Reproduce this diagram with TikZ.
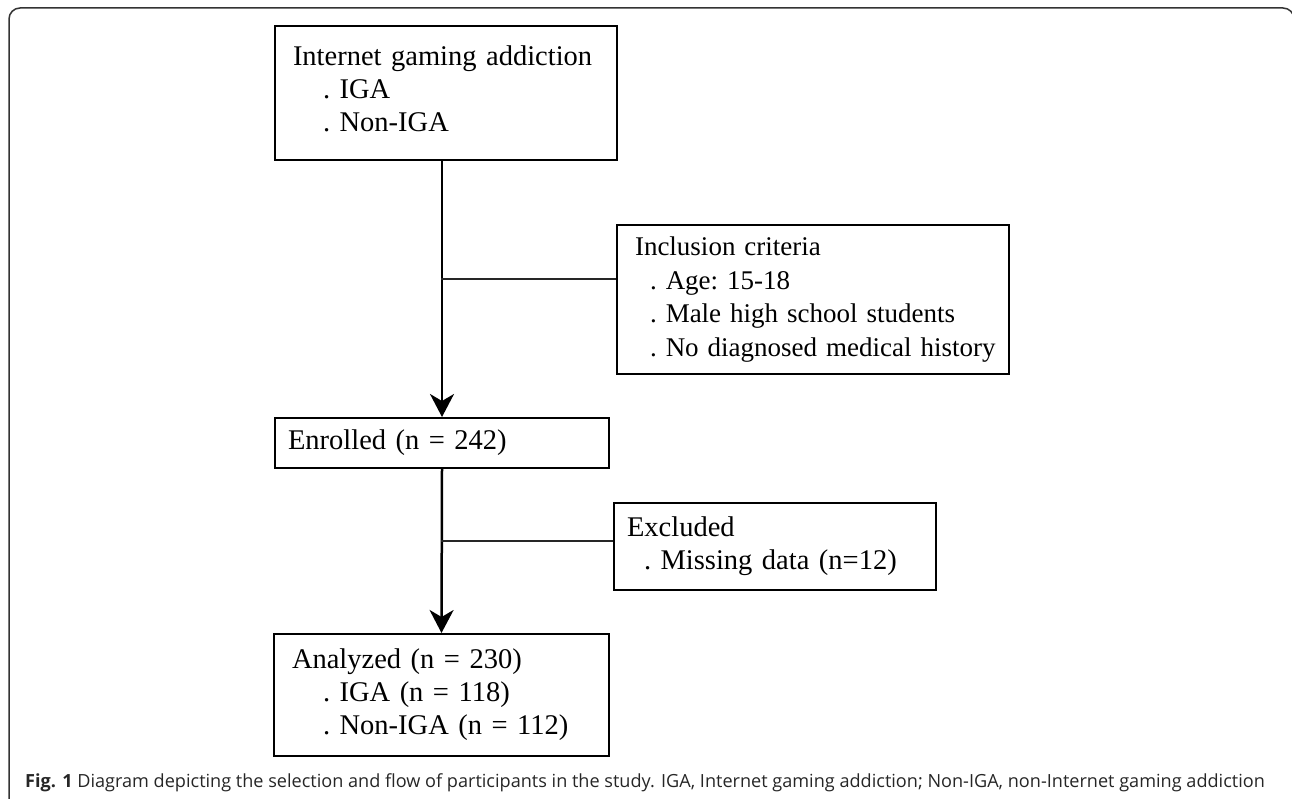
\documentclass[tikz,border=0pt]{standalone}
\usepackage{fontspec}
\setmainfont{Liberation Serif}
\newfontfamily\captionfont{Open Sans}
\usetikzlibrary{arrows.meta,positioning}
\tikzset{
  every picture/.style={x=1pt, y=-1pt, >={Stealth[length=23pt, width=24pt, inset=7pt]}},
  every node/.style={font=\fontsize{28.5}{33}\selectfont}}

\begin{document}
\begin{tikzpicture}[
    flowbox/.style={
      draw,
      line width=2pt,
      anchor=north west,
      align=left,
      inner xsep=18pt,
      inner ysep=0pt,
      execute at begin node=\frenchspacing},
    flowline/.style={line width=2pt, black!85},
    flowarrow/.style={->, line width=2.5pt}]

    \useasboundingbox (0,0) rectangle (1292,799);
    \draw[rounded corners=11pt, line width=1.5pt, black!80] (9,8) rectangle (1294,812);

    \node[flowbox, text width=306pt, minimum height=134pt] (iga) at (274,25)
      {Internet gaming addiction\\\hspace*{30pt}. IGA\\\hspace*{30pt}. Non-IGA\rule[-8pt]{0pt}{8pt}};
    \node[flowbox, text width=356pt, minimum height=149pt, font=\fontsize{27}{33.5}\selectfont] (incl) at (616,224)
      {Inclusion criteria\\\hspace*{15pt}. Age: 15-18\\\hspace*{15pt}. Male high school students\\\hspace*{15pt}\mbox{. No diagnosed medical history}};
    \node[flowbox, text width=308pt, minimum height=50pt, inner xsep=13pt] (enrol) at (274,417)
      {Enrolled (n = 242)};
    \node[flowbox, text width=296pt, minimum height=87pt, inner xsep=13pt] (excl) at (613,502)
      {Excluded\\\hspace*{17pt}. Missing data (n=12)};
    \node[flowbox, text width=299pt, minimum height=122pt] (anal) at (273,633)
      {Analyzed (n = 230)\\\hspace*{31pt}. IGA (n = 118)\\\hspace*{31pt}. Non-IGA (n = 112)};

    \coordinate (j1) at (441,279);
    \coordinate (j2) at (441,541);

    \draw[flowarrow] (enrol.north |- iga.south) -- (enrol.north);
    \draw[flowline] (j1) -- (j1 -| incl.west);
    \draw[flowarrow] (enrol.south) -- (anal.north);
    \draw[flowline] (j2) -- (j2 -| excl.west);

    \node[anchor=base west, inner sep=0pt, font=\captionfont\fontsize{18.1}{22}\selectfont, text=black!85] (caption) at (25,787)
      {\textbf{Fig. 1} Diagram depicting the selection and flow of participants in the study. IGA, Internet gaming addiction; Non-IGA, non-Internet gaming addiction};
\end{tikzpicture}
\end{document}
